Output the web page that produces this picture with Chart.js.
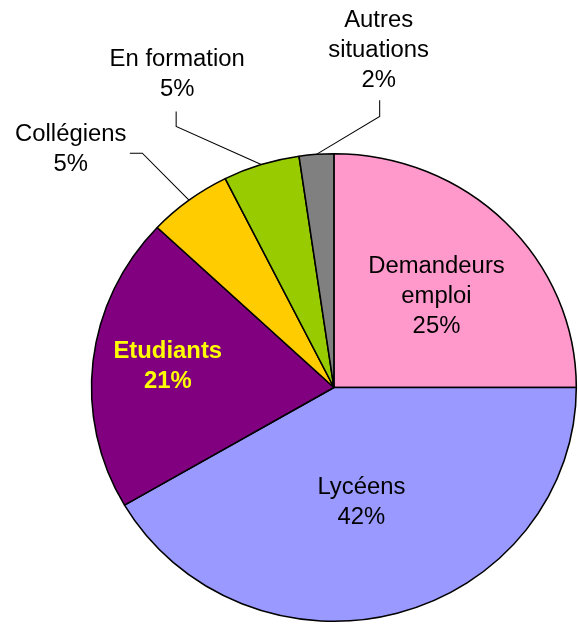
<!DOCTYPE html>
<html>
<head>
<meta charset="utf-8">
<script src="https://cdn.jsdelivr.net/npm/chart.js@4.4.1/dist/chart.umd.min.js"></script>
<style>
  html, body { margin: 0; padding: 0; background: #fff; }
  #wrap { width: 578px; height: 624px; }
</style>
</head>
<body>
<div id="wrap"><canvas id="pieChart" width="578" height="624"></canvas></div>
<script>
// data (slice shares, clockwise from 12 o'clock)
const categories = ['Demandeurs emploi', 'Lycéens', 'Etudiants', 'Collégiens', 'En formation', 'Autres situations'];
const values = [25.0, 41.6, 20.4, 5.6, 5.1, 2.3];
const pctLabels = ['25%', '42%', '21%', '5%', '5%', '2%'];
const colors = ['#FF99CC', '#9999FF', '#800080', '#FFCC00', '#99CC00', '#808080'];

// how each label is written and placed
const labelStyle = [
    { lines: ['Demandeurs', 'emploi'], inside: true, r: 0.55, shift: [8, 0], color: '#000', bold: false },
    { lines: ['Lycéens'], inside: true, r: 0.5, shift: [-4, 2], color: '#000', bold: false },
    { lines: ['Etudiants'], inside: true, r: 0.72, shift: [7, -2], color: '#FFFF00', bold: true },
    { lines: ['Collégiens'], inside: false, elbow: [-45, -47], tail: [-12, 0], text: [-57, -3] },
    { lines: ['En formation'], inside: false, elbow: [-82, -38], tail: [0, -15], text: [1, -37] },
    { lines: ['Autres', 'situations'], inside: false, elbow: [61, -38], tail: [0, -16], text: [-1, -50] }
];

const FONT = 'Liberation Sans, Arial, sans-serif';
const LINE_H = 30;
const STRETCH_X = 1.037; // the original picture is a little wider than tall

const stretch = {
    id: 'stretch',
    beforeDraw(chart) {
        chart.ctx.save();
        chart.ctx.transform(STRETCH_X, 0, 0, 1, 0, 0);
    },
    afterDraw(chart) {
        chart.ctx.restore();
    }
};

const pieLabels = {
    id: 'pieLabels',
    afterDatasetsDraw(chart) {
        const ctx = chart.ctx;
        const arcs = chart.getDatasetMeta(0).data;
        ctx.save();
        ctx.textAlign = 'center';
        ctx.textBaseline = 'middle';
        arcs.forEach((arc, i) => {
            const st = labelStyle[i];
            const mid = (arc.startAngle + arc.endAngle) / 2;
            const lines = st.lines.concat([pctLabels[i]]);
            let cx, cy;
            if (st.inside) {
                cx = arc.x + Math.cos(mid) * arc.outerRadius * st.r + st.shift[0];
                cy = arc.y + Math.sin(mid) * arc.outerRadius * st.r + st.shift[1];
                ctx.fillStyle = st.color;
                ctx.font = (st.bold ? 'bold ' : '') + '23px ' + FONT;
            } else {
                const ex = arc.x + Math.cos(mid) * arc.outerRadius;
                const ey = arc.y + Math.sin(mid) * arc.outerRadius;
                const bx = ex + st.elbow[0], by = ey + st.elbow[1];
                const tx = bx + st.tail[0], ty = by + st.tail[1];
                ctx.strokeStyle = '#000';
                ctx.lineWidth = 1;
                ctx.beginPath();
                ctx.moveTo(ex, ey);
                ctx.lineTo(bx, by);
                ctx.lineTo(tx, ty);
                ctx.stroke();
                cx = tx + st.text[0];
                cy = ty + st.text[1];
                ctx.fillStyle = '#000';
                ctx.font = '23px ' + FONT;
            }
            const top = cy - (lines.length - 1) * LINE_H / 2;
            lines.forEach((t, k) => ctx.fillText(t, cx, top + k * LINE_H));
        });
        ctx.restore();
    }
};

const ctx = document.getElementById('pieChart').getContext('2d');
new Chart(ctx, {
    type: 'pie',
    data: {
        labels: categories,
        datasets: [{
            data: values,
            backgroundColor: colors,
            borderColor: '#000',
            borderWidth: 1.5
        }]
    },
    options: {
        responsive: false,
        animation: false,
        layout: { padding: { top: 152.5, bottom: 1.5, left: 87.5, right: 21.5 } },
        plugins: {
            legend: { display: false },
            tooltip: { enabled: false }
        }
    },
    plugins: [stretch, pieLabels]
});
</script>
</body>
</html>
